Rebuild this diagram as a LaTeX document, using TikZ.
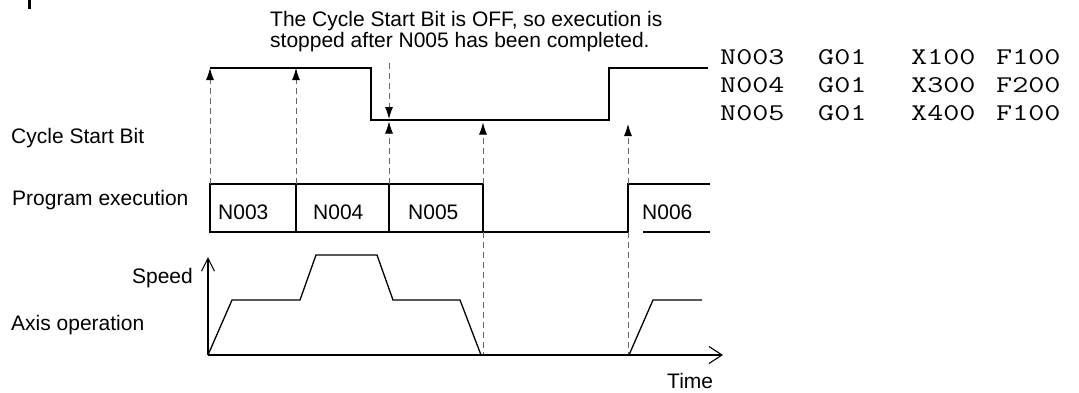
\documentclass[tikz,border=0pt]{standalone}
\usepackage{fontspec}
\setmainfont{Liberation Sans}
\usepackage{graphicx}
\usetikzlibrary{arrows.meta}
\begin{document}
\begin{tikzpicture}[x=1pt,y=-1pt,
  lbl/.style={inner sep=0pt, anchor=base west, font=\fontsize{21}{24}\selectfont},
  code/.style={inner sep=0pt, anchor=base west, font=\ttfamily\fontsize{24}{28}\selectfont},
  sig/.style={line width=1.3pt, line join=miter},
  guide/.style={black!60, line width=0.9pt, dash pattern=on 6pt off 4pt},
  tipup/.style={-{Latex[length=12pt,width=8pt,color=black]}},
  barb/.style={-{Straight Barb[length=13pt,width=17pt,line width=1.1pt]}}]
\useasboundingbox (0,0) rectangle (1079,392);
% clipped fragment at top left
\fill (28,0) rectangle (30.5,9);

% annotation
\node[lbl] (note1) at (270,26) {The Cycle Start Bit is OFF, so execution is};
\node[lbl] (note2) at (270,47) {stopped after N005 has been completed.};

% row labels
\node[lbl] (lcsb) at (11,143) {Cycle Start Bit};
\node[lbl] (lpe) at (12,205) {Program execution};
\node[lbl] (lax) at (11,330) {Axis operation};
\node[lbl, anchor=base east] (lsp) at (193,283) {Speed};
\node[lbl] (ltime) at (667,388) {Time};

% program listing
\foreach \r/\yy/\a/\b/\c/\d in {1/64/N003/G01/X100/F100, 2/92/N004/G01/X300/F200, 3/120/N005/G01/X400/F100}{
  \node[code] (c\r a) at (720,\yy) {\scalebox{1.3}[1]{\a}};
  \node[code] (c\r b) at (818,\yy) {\scalebox{1.3}[1]{\b}};
  \node[code] (c\r c) at (911,\yy) {\scalebox{1.3}[1]{\c}};
  \node[code] (c\r d) at (996,\yy) {\scalebox{1.3}[1]{\d}};
}

% Cycle Start Bit signal
\coordinate (s0) at (210,68);
\coordinate (s1) at (371,68);
\coordinate (s2) at (371,120);
\coordinate (s3) at (609,120);
\coordinate (s4) at (609,68);
\coordinate (s5) at (708,68);
\draw[sig] (s0) -- (s1) -- (s2) -- (s3) -- (s4) -- (s5);

% program execution boxes
\coordinate (p0t) at (210,184); \coordinate (p0b) at (210,232);
\coordinate (p1t) at (296,184); \coordinate (p1b) at (296,232);
\coordinate (p2t) at (389,184); \coordinate (p2b) at (389,232);
\coordinate (p3t) at (483,184); \coordinate (p3b) at (483,232);
\coordinate (p4t) at (628,184); \coordinate (p4b) at (628,232);
\coordinate (p5t) at (710,184); \coordinate (p5b) at (710,232);
\coordinate (p4g) at (643,232);
\draw[sig] (p0t) rectangle (p3b);
\draw[sig] (p1t) -- (p1b);
\draw[sig] (p2t) -- (p2b);
\draw[sig] (p3b) -- (p4b);
\draw[sig] (p5t) -- (p4t) -- (p4b);
\draw[sig] (p4g) -- (p5b);
\node[lbl] (n3) at (218,219) {N003};
\node[lbl] (n4) at (313,219) {N004};
\node[lbl] (n5) at (408,219) {N005};
\node[lbl] (n6) at (642,219) {N006};

% dashed guide arrows
\coordinate (g1) at (210,68);
\coordinate (g2) at (296,68);
\coordinate (g3top) at (389,63);
\coordinate (g3a) at (389,119);
\coordinate (g3b) at (389,121.5);
\coordinate (g4) at (483,122.5);
\coordinate (g5) at (628,124);
\draw[guide, tipup] (p0t) -- (g1);
\draw[guide, tipup] (p1t) -- (g2);
\draw[guide, tipup] (g3top) -- (g3a);
\draw[guide, tipup] (p2t) -- (g3b);
\draw[guide, tipup] (p3t) -- (g4);
\draw[guide, tipup] (p4t) -- (g5);

% axis operation
\coordinate (o) at (208,355);
\coordinate (tend) at (723,355);
\coordinate (vend) at (208,257);
\coordinate (z1) at (483,355);
\coordinate (z2) at (628,355);
\draw[guide] (p3b) -- (z1);
\draw[guide] (p4b) -- (z2);
\draw[line width=1.2pt, barb] (o) -- (tend);
\draw[line width=1.1pt, -{Straight Barb[length=13pt,width=13pt,line width=1.1pt]}] (o) -- (vend);
\draw[sig] (o) -- (232,300) -- (300,300) -- (316,255) -- (377,255) -- (393,300) -- (460,300) -- (481,355);
\draw[sig] (629,355) -- (653,300) -- (702,300);
\end{tikzpicture}
\end{document}
